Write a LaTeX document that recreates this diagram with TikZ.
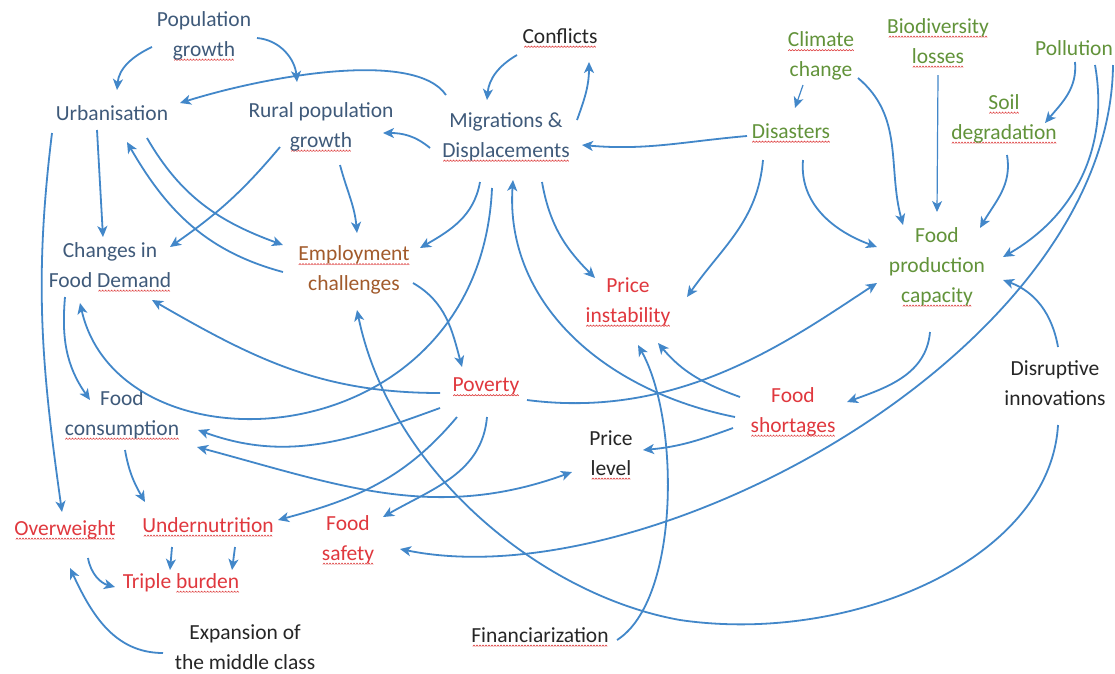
\documentclass[tikz,border=0pt]{standalone}
\usepackage{fontspec}
\setmainfont{Carlito}
\usetikzlibrary{arrows.meta}

\definecolor{txtblue}{HTML}{3F5A7A}
\definecolor{txtgreen}{HTML}{62933A}
\definecolor{txtred}{HTML}{E0383E}
\definecolor{txtbrown}{HTML}{A25B2C}
\definecolor{txtblack}{HTML}{262626}
\definecolor{linkblue}{HTML}{4287C9}
\definecolor{spellred}{HTML}{E04A4A}

% wavy spell-check underline
\newcommand\spell[1]{\setbox0\hbox{#1}\rlap{\lower4.5pt\hbox to\wd0{\cleaders\hbox{\tikz\draw[spellred,line width=0.6pt] (0pt,0pt) -- (1.2pt,1.3pt) -- (2.4pt,0pt);}\hfill}}\box0}

\tikzset{
  lbl/.style={align=center, inner sep=0pt, font=\fontsize{21.5}{30}\selectfont},
  bluetxt/.style={lbl, text=txtblue},
  greentxt/.style={lbl, text=txtgreen},
  redtxt/.style={lbl, text=txtred},
  browntxt/.style={lbl, text=txtbrown},
  blacktxt/.style={lbl, text=txtblack},
  link/.style={draw=linkblue, line width=1.8pt, -{Stealth[length=11pt,width=10pt,inset=3pt]}},
  thinlink/.style={link, line width=1.2pt},
  twolink/.style={link, {Stealth[length=11pt,width=10pt,inset=3pt]}-{Stealth[length=11pt,width=10pt,inset=3pt]}}
}

\begin{document}
\begin{tikzpicture}[x=1pt,y=-1pt]
\useasboundingbox[fill=white] (0,0) rectangle (1115,673);

% nodes
\node[bluetxt] (pop) at (204,36) {Population\\\spell{growth}};
\node[bluetxt] (urban) at (112,113) {Urbanisation};
\node[bluetxt] (rural) at (321,127) {Rural population\\\spell{growth}};
\node[blacktxt] (conflicts) at (560,38) {\spell{Conflicts}};
\node[bluetxt] (migr) at (506,137) {Migrations \&\\\spell{Displacements}};
\node[greentxt] (climate) at (821,56) {\spell{Climate}\\change};
\node[greentxt] (biodiv) at (938,43) {\spell{Biodiversity}\\\spell{losses}};
\node[greentxt] (pollution) at (1074,48) {Pollution};
\node[greentxt] (soil) at (1004,119) {\spell{Soil}\\\spell{degradation}};
\node[greentxt] (disasters) at (791,133) {\spell{Disasters}};
\node[bluetxt] (changes) at (110,267) {Changes in\\Food \spell{Demand}};
\node[browntxt] (employ) at (354,270) {\spell{Employment}\\challenges};
\node[redtxt] (priceinst) at (628,302) {Price\\\spell{instability}};
\node[greentxt] (foodprod) at (937,267) {Food\\production\\\spell{capacity}};
\node[redtxt] (poverty) at (486,387) {\spell{Poverty}};
\node[bluetxt] (foodcons) at (122,415) {Food\\\spell{consumption}};
\node[redtxt] (foodshort) at (793,412) {Food\\\spell{shortages}};
\node[blacktxt] (disrupt) at (1055,383) {Disruptive\\innovations};
\node[blacktxt] (pricelevel) at (611,455) {Price\\\spell{level}};
\node[redtxt] (overweight) at (65,530) {\spell{Overweight}};
\node[redtxt] (undernut) at (208,527) {\spell{Undernutrition}};
\node[redtxt] (foodsafety) at (348,540) {Food\\\spell{safety}};
\node[redtxt] (triple) at (181,583) {Triple \spell{burden}};
\node[blacktxt] (expansion) at (245,647) {Expansion of\\the middle class};
\node[blacktxt] (financ) at (540,637) {\spell{Financiarization}};

% top left
\draw[link] ([shift={(-52,11)}]pop.center) to[out=205,in=85] ([shift={(5,-23)}]urban.center);
\draw[link] ([shift={(53,2)}]pop.center) to[out=-5,in=95] ([shift={(-24,-45)}]rural.center);
\draw[link] ([shift={(-60,-42)}]migr.center) .. controls (415,50) and (270,75) .. ([shift={(68,-10)}]urban.center);
\draw[link] ([shift={(-76,11)}]migr.center) to[out=140,in=0] ([shift={(62,6)}]rural.center);
\draw[link] ([shift={(-43,17)}]conflicts.center) to[out=210,in=85] ([shift={(-19,-37)}]migr.center);
\draw[link] ([shift={(71,-17)}]migr.center) to[out=70,in=-90] ([shift={(29,24)}]conflicts.center);
\draw[link] ([shift={(-44,3)}]disasters.center) to[out=185,in=-5] ([shift={(76,8)}]migr.center);

% top right
\draw[thinlink] ([shift={(-18,29)}]climate.center) -- ([shift={(4,-25)}]disasters.center);
\draw[link] ([shift={(37,22)}]climate.center) to[out=-40,in=105] ([shift={(-34,-42)}]foodprod.center);
\draw[thinlink] ([shift={(0,32)}]biodiv.center) -- ([shift={(0,-55)}]foodprod.center);
\draw[link] ([shift={(1,14)}]pollution.center) to[out=-85,in=50] ([shift={(41,4)}]soil.center);
\draw[link] ([shift={(3,36)}]soil.center) to[out=-80,in=60] ([shift={(43,-39)}]foodprod.center);
\draw[link] ([shift={(21,17)}]pollution.center) to[out=-80,in=30] ([shift={(66,-10)}]foodprod.center);
\draw[link] ([shift={(39,17)}]pollution.center) .. controls (1110,350) and (650,600) .. ([shift={(52,9)}]foodsafety.center);

% left column
\draw[link] ([shift={(-15,17)}]urban.center) -- ([shift={(-7,-30)}]changes.center);
\draw[link] ([shift={(-60,20)}]urban.center) to[out=-97,in=98] ([shift={(-3,-18)}]overweight.center);
\draw[link] ([shift={(35,25)}]urban.center) to[out=-60,in=160] ([shift={(-71,-25)}]employ.center);
\draw[link] ([shift={(-71,2)}]employ.center) to[out=165,in=-60] ([shift={(15,29)}]urban.center);
\draw[link] ([shift={(-41,20)}]rural.center) to[out=-130,in=35] ([shift={(60,-20)}]changes.center);
\draw[link] ([shift={(19,38)}]rural.center) to[out=-75,in=95] ([shift={(3,-37)}]employ.center);
\draw[link] ([shift={(-26,45)}]migr.center) to[out=-100,in=30] ([shift={(66,-22)}]employ.center);
\draw[link] ([shift={(-14,51)}]migr.center) .. controls (480,460) and (120,480) .. ([shift={(-30,36)}]changes.center);
\draw[link] ([shift={(-45,30)}]changes.center) to[out=-95,in=125] ([shift={(-32,-15)}]foodcons.center);

% poverty
\draw[link] ([shift={(-46,6)}]poverty.center) to[out=180,in=-30] ([shift={(42,33)}]changes.center);
\draw[link] ([shift={(-46,21)}]poverty.center) to[out=200,in=-20] ([shift={(76,15)}]foodcons.center);
\draw[twolink] ([shift={(75,32)}]foodcons.center) to[out=-15,in=200] ([shift={(-39,17)}]pricelevel.center);
\draw[link] ([shift={(3,35)}]foodcons.center) to[out=-80,in=120] ([shift={(-63,-25)}]undernut.center);
\draw[link] ([shift={(-29,30)}]poverty.center) to[out=-130,in=15] ([shift={(70,-7)}]undernut.center);
\draw[link] ([shift={(1,30)}]poverty.center) to[out=-95,in=30] ([shift={(35,-23)}]foodsafety.center);
\draw[link] ([shift={(59,13)}]employ.center) to[out=-30,in=105] ([shift={(-24,-20)}]poverty.center);
\draw[link] ([shift={(41,13)}]poverty.center) .. controls (680,420) and (790,340) .. ([shift={(-60,16)}]foodprod.center);

% price instability and food shortages
\draw[link] ([shift={(36,45)}]migr.center) to[out=-80,in=135] ([shift={(-33,-24)}]priceinst.center);
\draw[link] ([shift={(-28,27)}]disasters.center) to[out=-95,in=55] ([shift={(59,-5)}]priceinst.center);
\draw[link] ([shift={(12,27)}]disasters.center) to[out=-95,in=160] ([shift={(-60,-20)}]foodprod.center);
\draw[link] ([shift={(-7,65)}]foodprod.center) to[out=-95,in=20] ([shift={(54,-10)}]foodshort.center);
\draw[link] ([shift={(-53,-15)}]foodshort.center) to[out=160,in=-50] ([shift={(30,41)}]priceinst.center);
\draw[link] ([shift={(-58,5)}]foodshort.center) .. controls (600,390) and (505,300) .. ([shift={(7,43)}]migr.center);
\draw[link] ([shift={(-60,16)}]foodshort.center) to[out=-160,in=5] ([shift={(32,-5)}]pricelevel.center);
\draw[link] ([shift={(77,3)}]financ.center) .. controls (680,600) and (680,420) .. ([shift={(10,43)}]priceinst.center);
\draw[link] ([shift={(3,-36)}]disrupt.center) to[out=100,in=-20] ([shift={(66,13)}]foodprod.center);
\draw[link] ([shift={(3,42)}]disrupt.center) .. controls (1050,560) and (850,645) .. (680,620)
  .. controls (540,595) and (390,470) .. ([shift={(3,40)}]employ.center);

% bottom left
\draw[link] ([shift={(-82,6)}]expansion.center) to[out=180,in=-65] ([shift={(5,38)}]overweight.center);
\draw[link] ([shift={(23,28)}]overweight.center) to[out=-80,in=165] ([shift={(-66,4)}]triple.center);
\draw[link] ([shift={(-36,20)}]undernut.center) -- ([shift={(-11,-13)}]triple.center);
\draw[link] ([shift={(27,20)}]undernut.center) -- ([shift={(51,-13)}]triple.center);
\end{tikzpicture}
\end{document}
